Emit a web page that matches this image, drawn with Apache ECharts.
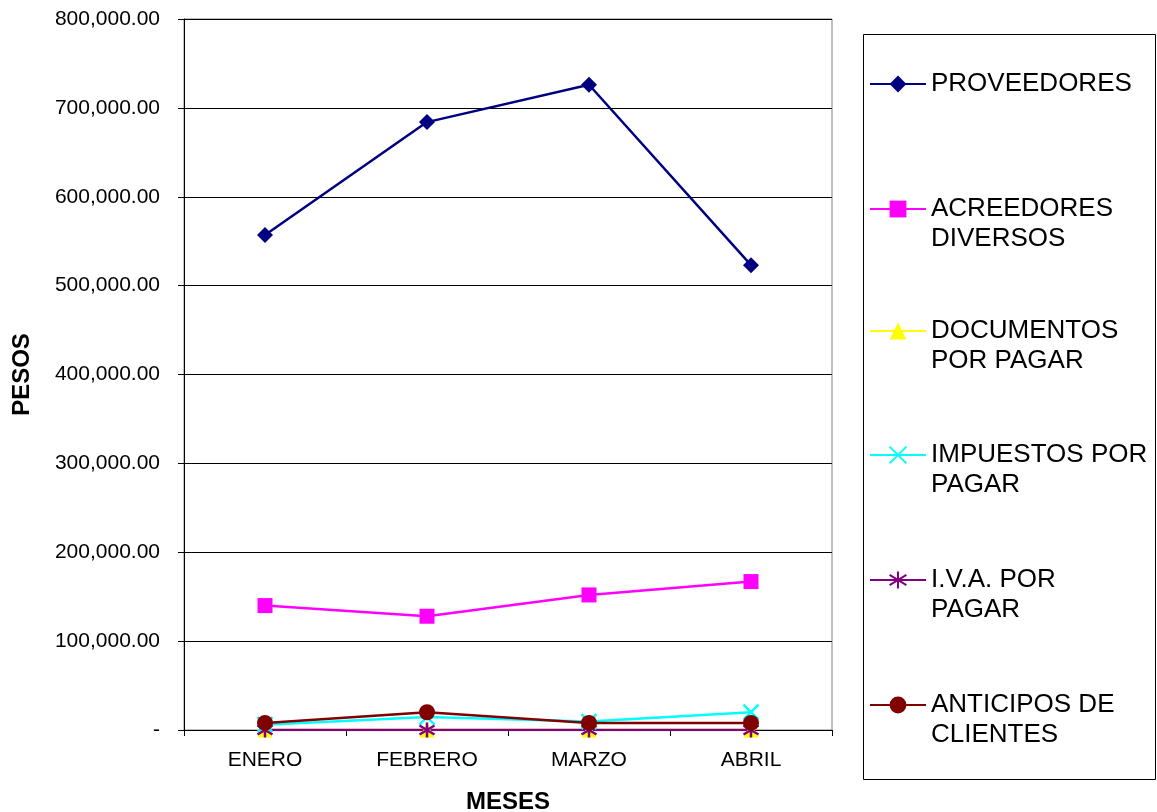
<!DOCTYPE html>
<html><head><meta charset="utf-8">
<script src="https://cdn.jsdelivr.net/npm/echarts@6/dist/echarts.min.js"></script>
<style>html,body{margin:0;padding:0;background:#fff}#c{width:1157px;height:812px}</style>
</head><body><div id="c"></div>
<script>
const categories = ['ENERO', 'FEBRERO', 'MARZO', 'ABRIL'];
const seriesNames = ['PROVEEDORES', 'ACREEDORES DIVERSOS', 'DOCUMENTOS POR PAGAR', 'IMPUESTOS POR PAGAR', 'I.V.A. POR PAGAR', 'ANTICIPOS DE CLIENTES'];
const legendLabels = ['PROVEEDORES', 'ACREEDORES\nDIVERSOS', 'DOCUMENTOS\nPOR PAGAR', 'IMPUESTOS POR\nPAGAR', 'I.V.A. POR\nPAGAR', 'ANTICIPOS DE\nCLIENTES'];
const proveedores = [557000, 684000, 726000, 523000];
const acreedores = [140000, 128000, 152000, 167000];
const documentos = [0, 0, 0, 0];
const impuestos = [6000, 14500, 9500, 20000];
const iva = [0, 0, 0, 0];
const anticipos = [8000, 20000, 8000, 8000];
const yTicks = [0, 100000, 200000, 300000, 400000, 500000, 600000, 700000, 800000];

const dataSets = [proveedores, acreedores, documentos, impuestos, iva, anticipos];
const colors = ['#000080', '#FF00FF', '#FFFF00', '#00FFFF', '#800080', '#800000'];
const symbols = ['diamond', 'rect', 'triangle', 'path://M0,0L10,10M10,0L0,10', 'path://M5,0L5,10M0,2L10,8M10,2L0,8', 'circle'];
const symSizes = [16, 15, 15, 15, 15, 16];

const FONT = '"Liberation Sans", Arial, sans-serif';
function fmt(v) {
  if (v === 0) return '-';
  return v.toLocaleString('en-US', {minimumFractionDigits: 2, maximumFractionDigits: 2});
}

const series = seriesNames.map((n, i) => ({
  name: n, type: 'line', data: dataSets[i],
  symbol: symbols[i], symbolSize: symSizes[i],
  lineStyle: {color: colors[i], width: 2.5},
  itemStyle: {color: colors[i], borderColor: colors[i], borderWidth: (i === 3 || i === 4) ? 2.5 : 0},
  emphasis: {disabled: true}, animation: false
}));

const legendY = [84, 209, 331, 455, 580, 705];
const legends = seriesNames.map((n, i) => {
  const two = legendLabels[i].indexOf('\n') >= 0;
  return {
    data: [n], left: 864, top: legendY[i] - (two ? 45 : 15) - 5,
    itemWidth: 56, itemHeight: 21, itemGap: 0,
    formatter: () => two ? '\n' + legendLabels[i] : legendLabels[i],
    selectedMode: false,
    textStyle: {fontFamily: FONT, fontSize: 26, color: '#000', lineHeight: 30}
  };
});

const chart = echarts.init(document.getElementById('c'));
chart.setOption({
  animation: false,
  backgroundColor: '#fff',
  grid: {left: 184, right: 325, top: 19, bottom: 82, show: true, borderColor: '#808080', borderWidth: 1,
    containLabel: false, outerBoundsMode: 'none'},
  legend: legends,
  graphic: [{type: 'rect', shape: {x: 863.5, y: 34.5, width: 292, height: 745}, style: {fill: 'none', stroke: '#000', lineWidth: 1}, z: -1}],
  xAxis: {
    type: 'category', data: categories, boundaryGap: true,
    name: 'MESES', nameLocation: 'middle', nameGap: 60,
    nameTextStyle: {fontFamily: FONT, fontSize: 24, fontWeight: 'bold', color: '#000'},
    axisLine: {lineStyle: {color: '#000', width: 1}},
    axisTick: {show: true, length: 6, lineStyle: {color: '#000'}},
    axisLabel: {fontFamily: FONT, fontSize: 21, color: '#000', margin: 20}
  },
  yAxis: {
    type: 'value', min: 0, max: 800000, interval: 100000,
    name: 'PESOS', nameLocation: 'middle', nameGap: 150, nameRotate: 90,
    nameTextStyle: {fontFamily: FONT, fontSize: 24, fontWeight: 'bold', color: '#000'},
    axisLine: {show: true, lineStyle: {color: '#000', width: 1}},
    axisTick: {show: true, length: 6, inside: false, lineStyle: {color: '#000'}},
    splitLine: {show: true, lineStyle: {color: '#000', width: 1}},
    axisLabel: {fontFamily: FONT, fontSize: 21, color: '#000', margin: 24,
      formatter: v => yTicks.indexOf(v) >= 0 ? fmt(v) : ''}
  },
  series: series
});
</script></body></html>
